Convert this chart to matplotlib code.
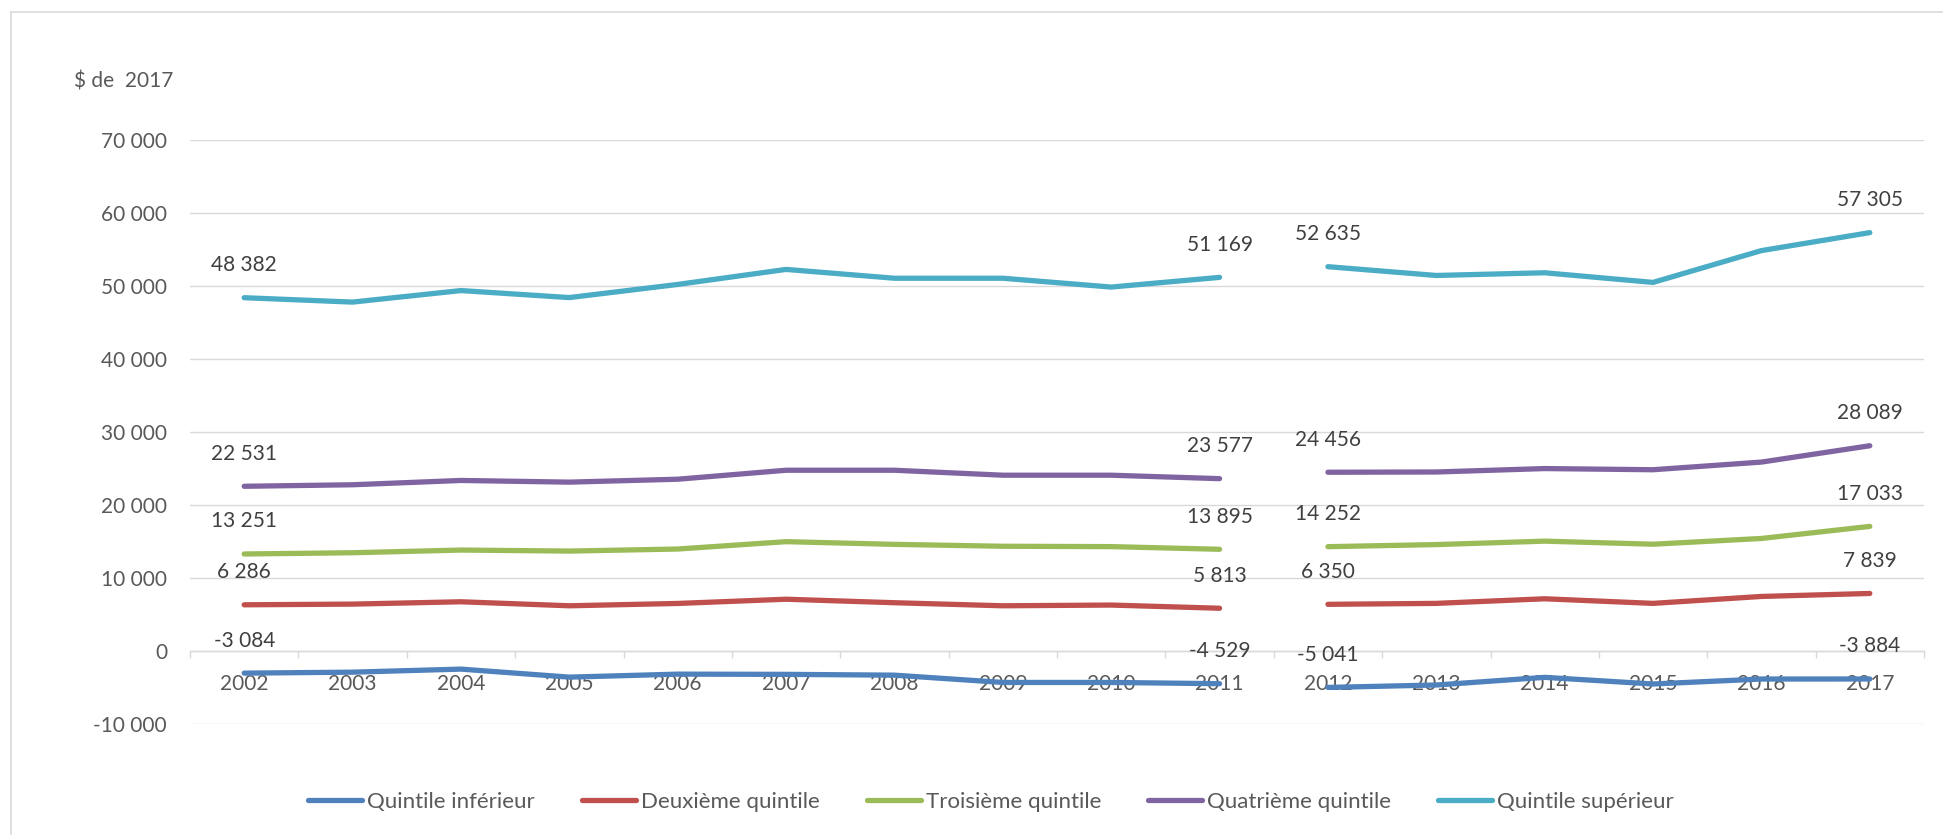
import numpy as np
import matplotlib
matplotlib.use("Agg")
import matplotlib.pyplot as plt
from matplotlib.lines import Line2D

plt.rcParams['font.family'] = ['Lato', 'DejaVu Sans']

# data ($ de 2017)
years = ['2002', '2003', '2004', '2005', '2006', '2007', '2008', '2009',
         '2010', '2011', '2012', '2013', '2014', '2015', '2016', '2017']
series_names = ['Quintile inférieur', 'Deuxième quintile', 'Troisième quintile',
                'Quatrième quintile', 'Quintile supérieur']
q1 = [-3084, -2950, -2530, -3630, -3220, -3250, -3360, -4360, -4360, -4529,
      -5041, -4710, -3660, -4570, -3890, -3884]
q2 = [6286, 6380, 6700, 6150, 6470, 7050, 6570, 6150, 6250, 5813,
      6350, 6480, 7110, 6480, 7430, 7839]
q3 = [13251, 13420, 13790, 13650, 13930, 14940, 14570, 14310, 14260, 13895,
      14252, 14540, 15010, 14590, 15380, 17033]
q4 = [22531, 22740, 23330, 23100, 23500, 24730, 24730, 24050, 24050, 23577,
      24456, 24490, 24960, 24800, 25850, 28089]
q5 = [48382, 47780, 49360, 48400, 50200, 52260, 51050, 51050, 49840, 51169,
      52635, 51430, 51800, 50480, 54840, 57305]
colors = ['#4F81BD', '#C0504D', '#9BBB59', '#8064A2', '#4BACC6']
break_at = 10  # series break between 2011 and 2012


def fmt(v):
    s = f"{abs(int(v)):,}".replace(',', ' ')
    return ('-' if v < 0 else '') + s


fig = plt.figure(figsize=(19.43, 8.35), dpi=100)
ax = fig.add_axes([190 / 1943, 1 - 723.6 / 835, (1924 - 190) / 1943, (723.6 - 140) / 835])

x = np.arange(len(years))
for vals, name, c in zip([q1, q2, q3, q4, q5], series_names, colors):
    v = np.array(vals, dtype=float)
    ax.plot(x[:break_at], v[:break_at], color=c, lw=3.8, solid_capstyle='round',
            solid_joinstyle='round', label=name, zorder=3)
    ax.plot(x[break_at:], v[break_at:], color=c, lw=3.8, solid_capstyle='round',
            solid_joinstyle='round', zorder=3)
    for i in [0, break_at - 1, break_at, len(years) - 1]:
        ax.annotate(fmt(v[i]), xy=(x[i], v[i]), xytext=(0, 23.5),
                    textcoords='offset points', ha='center', va='center',
                    fontsize=15, color='#404040', zorder=4)

ax.set_xlim(-0.5, len(years) - 0.5)
ax.set_ylim(-10000, 70000)
ax.set_yticks(range(-10000, 70001, 10000))
ax.set_yticklabels([fmt(t) for t in range(-10000, 70001, 10000)])
ax.yaxis.grid(True, color='#D9D9D9', lw=1.0)
ax.set_axisbelow(True)

ax.set_xticks(x)
ax.set_xticklabels(years)
ax.set_xticks(np.arange(-0.5, len(years)), minor=True)
ax.tick_params(axis='x', which='major', length=0, pad=16.5, labelsize=15, labelcolor='#595959')
ax.tick_params(axis='x', which='minor', length=5, width=1.0, color='#D9D9D9', direction='out')
ax.tick_params(axis='y', length=0, pad=16.5, labelsize=15, labelcolor='#595959')

for s in ['top', 'right', 'left']:
    ax.spines[s].set_visible(False)
ax.spines['bottom'].set_position(('data', 0))
ax.spines['bottom'].set_color('#D9D9D9')
ax.spines['bottom'].set_linewidth(1.0)

fig.text(74 / 1943, 1 - 81 / 835, '$ de  2017', fontsize=15, color='#595959', va='center', ha='left')

leg = fig.legend(loc='center', bbox_to_anchor=(991 / 1943, 1 - 802 / 835), ncol=5,
                 frameon=False, fontsize=16, handlelength=2.45, handletextpad=0.22,
                 columnspacing=2.1, borderaxespad=0)
for t in leg.get_texts():
    t.set_color('#595959')
for h in leg.get_lines():
    h.set_linewidth(3.8)
    h.set_solid_capstyle('round')

# chart area border
fig.add_artist(Line2D([11 / 1943, 11 / 1943], [0, 1 - 12 / 835], color='#D9D9D9', lw=1.2))
fig.add_artist(Line2D([11 / 1943, 1], [1 - 12 / 835, 1 - 12 / 835], color='#D9D9D9', lw=1.2))

fig.savefig('out.png', dpi=100, facecolor='white')
